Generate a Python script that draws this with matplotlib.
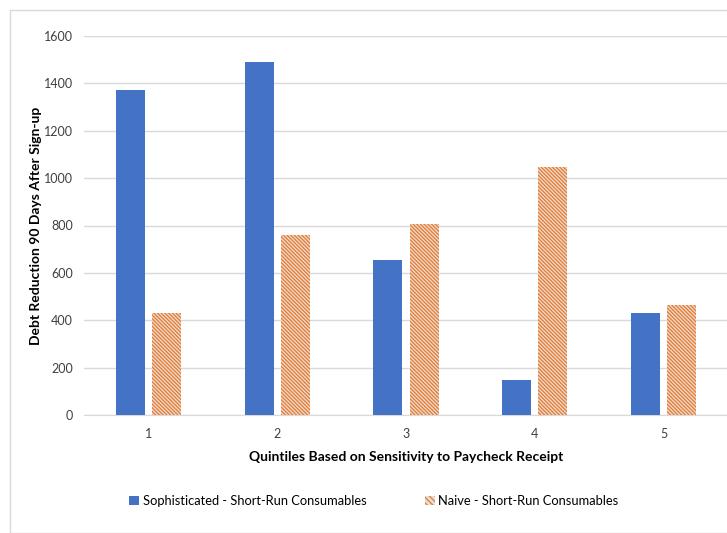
import numpy as np
import matplotlib
matplotlib.use("Agg")
import matplotlib.pyplot as plt
from matplotlib.patches import Rectangle, Patch

plt.rcParams['font.family'] = ['Lato', 'DejaVu Sans']
plt.rcParams['hatch.color'] = '#ED7D31'
plt.rcParams['hatch.linewidth'] = 1.0

quintiles = ['1', '2', '3', '4', '5']
sophisticated = [1370, 1490, 655, 148, 432]
naive = [432, 760, 808, 1048, 465]
yticks = [0, 200, 400, 600, 800, 1000, 1200, 1400, 1600]

fig = plt.figure(figsize=(7.27, 5.33), dpi=100)
# light frame around the chart area
fig.patches.append(Rectangle((10 / 727, 0), 1.0, 1 - 10 / 533, transform=fig.transFigure,
                             fill=False, edgecolor='#D9D9D9', linewidth=1.0))

ax = fig.add_axes([84 / 727, 1 - 415 / 533, 644 / 727, 379 / 533])
x = np.arange(1, len(quintiles) + 1)
w = 0.225
off = 0.14
hatch = '\\' * 9
ax.bar(x - off, sophisticated, width=w, color='#4472C4', zorder=3)
ax.bar(x + off, naive, width=w, facecolor='#E4E1DE', edgecolor='#ED7D31',
       hatch=hatch, linewidth=0, zorder=3)

ax.set_xlim(0.5, 5.5)
ax.set_ylim(0, 1600)
ax.set_xticks(x)
ax.set_xticklabels(quintiles)
ax.set_yticks(yticks)
ax.grid(axis='y', color='#D9D9D9', linewidth=1.0, zorder=0)
for s in ['top', 'right', 'left']:
    ax.spines[s].set_visible(False)
ax.spines['bottom'].set_color('#D9D9D9')
ax.tick_params(axis='both', length=0, labelsize=9, colors='#404040')
ax.tick_params(axis='x', pad=9)
ax.tick_params(axis='y', pad=8)

ax.set_xlabel('Quintiles Based on Sensitivity to Paycheck Receipt', fontsize=10,
              fontweight='bold', color='#000000', labelpad=8)
ax.set_ylabel('Debt Reduction 90 Days After Sign-up', fontsize=10,
              fontweight='bold', color='#000000')
ax.yaxis.set_label_coords(-42 / 644, 0.5)

handles = [Patch(facecolor='#4472C4', label='Sophisticated - Short-Run Consumables'),
           Patch(facecolor='#E4E1DE', edgecolor='#ED7D31', hatch='\\' * 6, linewidth=0,
                 label='Naive - Short-Run Consumables')]
fig.legend(handles=handles, loc='center', bbox_to_anchor=(374 / 727, 1 - 501 / 533),
           ncol=2, frameon=False, fontsize=9.3, handlelength=0.75, handleheight=0.75,
           handletextpad=0.3, columnspacing=4.5)

fig.savefig('out.png', dpi=100)
